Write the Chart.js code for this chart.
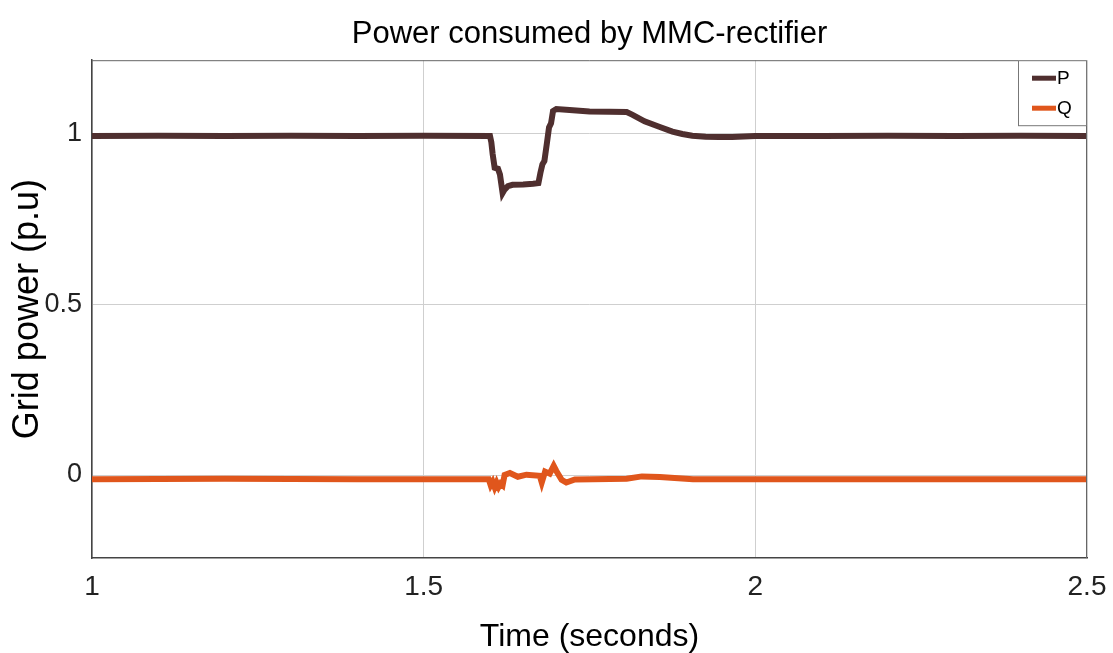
<!DOCTYPE html>
<html>
<head>
<meta charset="utf-8">
<script src="https://cdn.jsdelivr.net/npm/chart.js@4"></script>
<style>
  html, body { margin: 0; padding: 0; background: #fff; }
  #wrap { width: 1113px; height: 653px; }
</style>
</head>
<body>
<div id="wrap"><canvas id="chart" width="1113" height="653"></canvas></div>
<script>
// Active power P (p.u.)
const timeP = [1.00, 1.10, 1.20, 1.30, 1.40, 1.50, 1.600, 1.602, 1.604, 1.607, 1.612, 1.615, 1.619, 1.622, 1.627, 1.634, 1.650, 1.665, 1.673, 1.676, 1.679, 1.682, 1.686, 1.689, 1.692, 1.695, 1.700, 1.720, 1.750, 1.780, 1.806, 1.815, 1.833, 1.855, 1.875, 1.890, 1.905, 1.925, 1.945, 1.965, 2.00, 2.10, 2.20, 2.30, 2.40, 2.50];
const powerP = [0.993, 0.994, 0.993, 0.994, 0.993, 0.994, 0.993, 0.975, 0.94, 0.90, 0.897, 0.88, 0.826, 0.836, 0.846, 0.850, 0.851, 0.853, 0.855, 0.885, 0.91, 0.92, 0.975, 1.018, 1.03, 1.066, 1.072, 1.069, 1.065, 1.064, 1.063, 1.055, 1.036, 1.02, 1.006, 0.999, 0.994, 0.991, 0.990, 0.990, 0.993, 0.993, 0.994, 0.993, 0.994, 0.993];

// Reactive power Q (p.u.)
const timeQ = [1.00, 1.20, 1.40, 1.598, 1.601, 1.604, 1.607, 1.610, 1.613, 1.616, 1.619, 1.622, 1.630, 1.642, 1.655, 1.675, 1.678, 1.683, 1.690, 1.696, 1.700, 1.708, 1.715, 1.728, 1.755, 1.806, 1.829, 1.856, 1.906, 2.00, 2.20, 2.50];
const powerQ = [-0.012, -0.011, -0.012, -0.012, -0.03, -0.02, -0.036, -0.022, -0.035, -0.025, -0.03, 0.0, 0.006, -0.005, 0.001, -0.002, -0.022, 0.01, 0.004, 0.027, 0.012, -0.014, -0.022, -0.013, -0.012, -0.011, -0.004, -0.006, -0.012, -0.012, -0.012, -0.012];

const xTicks = [1, 1.5, 2, 2.5];
const yTicks = [0, 0.5, 1];

const seriesNames = ["P", "Q"];
const seriesColors = ["#4f2f2f", "#e0561c"];

const FONT = "'Liberation Sans', Arial, sans-serif";

const toPoints = (xs, ys) => xs.map((x, i) => ({ x: x, y: ys[i] }));

// box round the plot, like a matlab axes
const boxPlugin = {
    id: "box",
    afterDraw(chart) {
        const { ctx, chartArea: a } = chart;
        ctx.save();
        ctx.strokeStyle = "#666";
        ctx.lineWidth = 1;
        ctx.beginPath();
        ctx.moveTo(a.left, a.top + 0.5);
        ctx.lineTo(a.right - 0.5, a.top + 0.5);
        ctx.lineTo(a.right - 0.5, a.bottom);
        ctx.stroke();
        ctx.restore();
    }
};

// legend box in the top right corner of the plot
const legendPlugin = {
    id: "boxLegend",
    afterDraw(chart) {
        const { ctx, chartArea: a } = chart;
        const left = a.right - 69;
        const top = a.top;
        ctx.save();
        ctx.fillStyle = "#fff";
        ctx.fillRect(left, top, 69, 65);
        ctx.strokeStyle = "#777";
        ctx.lineWidth = 1;
        ctx.strokeRect(left + 0.5, top + 0.5, 68, 65);
        ctx.font = "19px " + FONT;
        ctx.textBaseline = "middle";
        chart.data.datasets.forEach((ds, i) => {
            const y = top + 18 + i * 30;
            ctx.strokeStyle = ds.borderColor;
            ctx.lineWidth = 5;
            ctx.beginPath();
            ctx.moveTo(left + 14, y);
            ctx.lineTo(left + 38, y);
            ctx.stroke();
            ctx.fillStyle = "#000";
            ctx.fillText(ds.label, left + 39, y + 1);
        });
        ctx.restore();
    }
};

const datasets = [
    toPoints(timeP, powerP),
    toPoints(timeQ, powerQ)
].map((points, i) => ({
    label: seriesNames[i],
    data: points,
    borderColor: seriesColors[i],
    backgroundColor: seriesColors[i],
    borderWidth: 6,
    pointRadius: 0,
    tension: 0,
    fill: false
}));

new Chart(document.getElementById("chart"), {
    type: "line",
    data: { datasets: datasets },
    plugins: [boxPlugin, legendPlugin],
    options: {
        responsive: false,
        animation: false,
        layout: { padding: { left: 0, right: 26, top: 0, bottom: 0 } },
        plugins: {
            legend: { display: false },
            tooltip: { enabled: false },
            title: {
                display: true,
                text: "Power consumed by MMC-rectifier",
                color: "#000",
                font: { family: FONT, size: 31, weight: "normal" },
                padding: { top: 16, bottom: 7 },
                fullSize: false
            }
        },
        scales: {
            x: {
                type: "linear",
                min: 1,
                max: 2.5,
                afterBuildTicks: scale => { scale.ticks = xTicks.map(v => ({ value: v })); },
                afterFit: scale => {
                    scale.height = 95;
                    scale.paddingLeft = 0;
                    scale.paddingRight = 0;
                },
                ticks: {
                    color: "#222",
                    font: { family: FONT, size: 28 },
                    padding: 12,
                    maxRotation: 0,
                    callback: v => String(v)
                },
                grid: { color: "#cfcfcf", lineWidth: 1, drawTicks: false },
                border: { color: "#444", width: 1.5 },
                title: {
                    display: true,
                    text: "Time (seconds)",
                    color: "#000",
                    font: { family: FONT, size: 32 },
                    padding: { top: 0, bottom: -3 }
                }
            },
            y: {
                min: -0.243,
                max: 1.215,
                afterBuildTicks: scale => { scale.ticks = yTicks.map(v => ({ value: v })); },
                afterFit: scale => { scale.width = 92; },
                ticks: {
                    color: "#222",
                    font: { family: FONT, size: 27 },
                    padding: 10,
                    callback: v => String(v)
                },
                grid: { color: "#cfcfcf", lineWidth: 1, drawTicks: false },
                border: { color: "#444", width: 1.5 },
                title: {
                    display: true,
                    text: "Grid power (p.u)",
                    color: "#000",
                    font: { family: FONT, size: 36 },
                    padding: { top: 6, bottom: 0 }
                }
            }
        }
    }
});
</script>
</body>
</html>
